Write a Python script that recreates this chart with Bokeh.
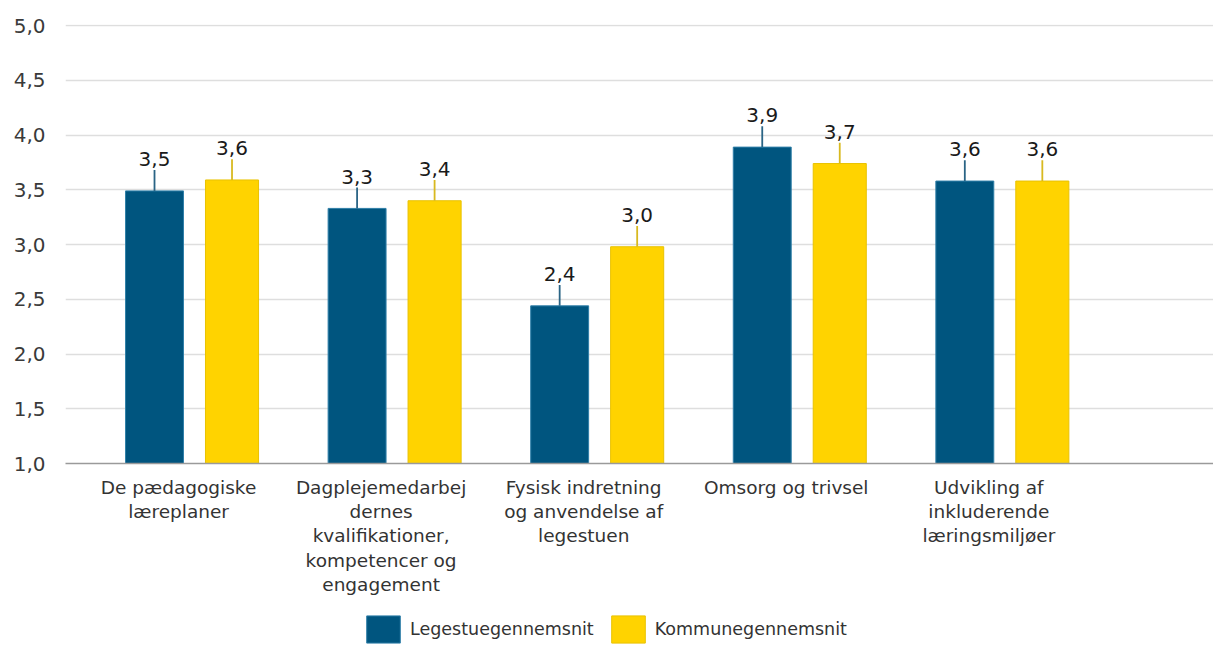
from bokeh.plotting import figure
from bokeh.layouts import column
from bokeh.models import (ColumnDataSource, FixedTicker, Legend, LegendItem,
                          CustomJSTickFormatter, Range1d)
from bokeh.transform import dodge
from bokeh.core.properties import value
from bokeh.embed import file_html
from bokeh.resources import INLINE

# ---- data ----
categories = [
    "De pædagogiske\nlæreplaner",
    "Dagplejemedarbej\ndernes\nkvalifikationer,\nkompetencer og\nengagement",
    "Fysisk indretning\nog anvendelse af\nlegestuen",
    "Omsorg og trivsel",
    "Udvikling af\ninkluderende\nlæringsmiljøer",
]
legestue = [3.49, 3.33, 2.44, 3.89, 3.58]
kommune = [3.59, 3.40, 2.98, 3.74, 3.58]
series_names = ["Legestuegennemsnit", "Kommunegennemsnit"]
y_ticks = [1.0, 1.5, 2.0, 2.5, 3.0, 3.5, 4.0, 4.5, 5.0]

BLUE = "#00557F"
YELLOW = "#FFD300"
FONT = "DejaVu Sans"
LEAD = 0.19  # leader-line length in data units

idx = list(range(len(categories)))
fmt = lambda v: f"{v:.1f}".replace(".", ",")

src = ColumnDataSource(dict(
    x=idx,
    leg=legestue, kom=kommune,
    leg_top=[v + LEAD for v in legestue],
    kom_top=[v + LEAD for v in kommune],
    leg_lbl=[fmt(v) for v in legestue],
    kom_lbl=[fmt(v) for v in kommune],
))

W = 1213
p = figure(width=W, height=610, output_backend="svg", toolbar_location=None,
           x_range=Range1d(-0.627, 5.04), y_range=Range1d(1.0, 5.01),
           min_border_left=65, min_border_top=24, min_border_right=0,
           min_border_bottom=147)
p.outline_line_color = None
p.background_fill_color = "white"

OFF_B, OFF_Y = -0.1876, 0.195
BAR_B = dict(fill_color=BLUE, line_color="#2F7FA8", line_width=1)
BAR_Y = dict(fill_color=YELLOW, line_color="#E9C200", line_width=1)

p.vbar(x=dodge("x", OFF_B), top="leg", bottom=1.0, width=0.286, source=src, **BAR_B)
p.vbar(x=dodge("x", OFF_Y), top="kom", bottom=1.0, width=0.262, source=src, **BAR_Y)

# leader lines
p.segment(x0=dodge("x", OFF_B), y0="leg", x1=dodge("x", OFF_B), y1="leg_top",
          source=src, line_color="#2A6485", line_width=1.8)
p.segment(x0=dodge("x", OFF_Y), y0="kom", x1=dodge("x", OFF_Y), y1="kom_top",
          source=src, line_color="#D8B920", line_width=1.8)

# value labels
for xcol, ycol, lcol in [(dodge("x", OFF_B), "leg_top", "leg_lbl"),
                         (dodge("x", OFF_Y), "kom_top", "kom_lbl")]:
    p.text(x=xcol, y=ycol, text=lcol, source=src, text_align="center",
           text_baseline="alphabetic", y_offset=-11,
           text_font=value(FONT), text_font_size="20px", text_color="#1a1a1a")

# y axis
p.yaxis.ticker = FixedTicker(ticks=y_ticks)
p.yaxis.formatter = CustomJSTickFormatter(code="return tick.toFixed(1).replace('.', ',');")
p.yaxis.axis_line_color = None
p.yaxis.major_tick_line_color = None
p.yaxis.minor_tick_line_color = None
p.yaxis.major_label_standoff = 14
p.yaxis.major_label_text_font = FONT
p.yaxis.major_label_text_font_size = "20px"
p.yaxis.major_label_text_color = "#3a3a3a"

p.ygrid.ticker = FixedTicker(ticks=y_ticks)
p.ygrid.grid_line_color = "#dedede"
p.ygrid.grid_line_width = 1.5
p.xgrid.grid_line_color = None

# x axis
p.xaxis.ticker = FixedTicker(ticks=[i - 0.069 for i in idx])
p.xaxis.formatter = CustomJSTickFormatter(args=dict(labels=categories),
                                          code="return labels[Math.round(tick)];")
p.xaxis.axis_line_color = "#9a9a9a"
p.xaxis.axis_line_width = 1.5
p.xaxis.major_tick_line_color = None
p.xaxis.minor_tick_line_color = None
p.xaxis.major_label_standoff = 7
p.xaxis.major_label_text_font = FONT
p.xaxis.major_label_text_font_size = "18.5px"
p.xaxis.major_label_text_color = "#333333"
p.xaxis.major_label_text_line_height = 1.16
p.xaxis.major_label_text_align = "center"

# legend figure (bars drawn out of view; only the legend is visible)
lg = figure(width=W, height=36, output_backend="svg", toolbar_location=None,
            x_range=Range1d(-0.627, 5.04), y_range=Range1d(100, 101),
            min_border=0)
lg.axis.visible = False
lg.grid.visible = False
lg.outline_line_color = None
lb = lg.vbar(x="x", top="leg", bottom=1.0, width=0.286, source=src, **BAR_B)
ly = lg.vbar(x="x", top="kom", bottom=1.0, width=0.262, source=src, **BAR_Y)
legend = Legend(items=[LegendItem(label=series_names[0], renderers=[lb]),
                       LegendItem(label=series_names[1], renderers=[ly])],
                orientation="horizontal", location=(297, 0),
                glyph_width=42, glyph_height=34, label_standoff=6, spacing=13,
                label_text_font=FONT, label_text_font_size="17.5px",
                label_text_color="#333333", border_line_color=None,
                background_fill_alpha=0, margin=0, padding=1)
lg.add_layout(legend)

layout = column(p, lg, spacing=0)
open("out.html", "w").write(file_html(layout, INLINE))
